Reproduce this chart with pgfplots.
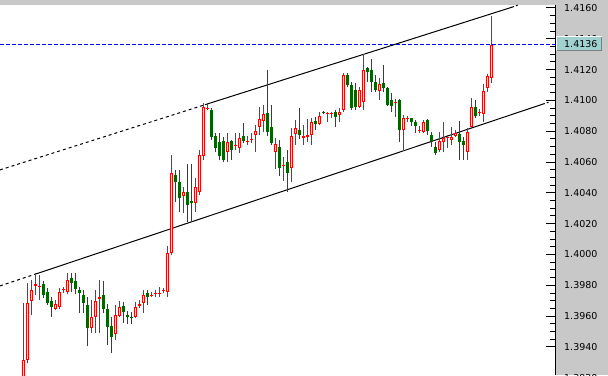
\documentclass[border=0pt]{standalone}
\usepackage{fontspec}
\setmainfont{DejaVu Sans}
\usepackage{pgfplots}
\usepackage{pgfplotstable}
\pgfplotsset{compat=1.18}
\definecolor{bullred}{RGB}{255,0,0}
\definecolor{beargreen}{RGB}{0,100,0}
\definecolor{panelgray}{RGB}{200,200,200}
\definecolor{pricebox}{RGB}{160,208,208}

\pgfplotstableread{
x o h l c
0 1.39184 1.39684 1.39184 1.39314
1 1.39314 1.39814 1.39295 1.39684
2 1.39697 1.39834 1.39606 1.39769
3 1.39795 1.39879 1.39736 1.39808
4 1.39788 1.39866 1.39704 1.39795
8 1.39645 1.39704 1.39639 1.39678
9 1.39658 1.39782 1.39645 1.39756
10 1.39769 1.39788 1.39749 1.39775
11 1.39756 1.39879 1.39743 1.39834
17 1.39522 1.39704 1.39490 1.39593
18 1.39593 1.39769 1.39490 1.39697
19 1.39710 1.39834 1.39490 1.39723
23 1.39483 1.39671 1.39444 1.39606
24 1.39600 1.39697 1.39593 1.39658
28 1.39593 1.39691 1.39587 1.39658
29 1.39665 1.39704 1.39652 1.39678
30 1.39684 1.39769 1.39619 1.39736
32 1.39730 1.39756 1.39723 1.39736
33 1.39743 1.39769 1.39723 1.39749
34 1.39743 1.39788 1.39723 1.39749
35 1.39762 1.39782 1.39749 1.39769
36 1.39756 1.40055 1.39723 1.40009
37 1.40009 1.40645 1.39996 1.40529
40 1.40379 1.40438 1.40269 1.40405
43 1.40334 1.40496 1.40275 1.40438
44 1.40405 1.40678 1.40386 1.40645
45 1.40639 1.40983 1.40613 1.40957
46 1.40944 1.40983 1.40938 1.40951
51 1.40665 1.40788 1.40600 1.40730
53 1.40704 1.40788 1.40678 1.40710
54 1.40691 1.40788 1.40658 1.40756
56 1.40730 1.40769 1.40710 1.40736
57 1.40743 1.40788 1.40723 1.40749
58 1.40775 1.40840 1.40665 1.40801
59 1.40827 1.40957 1.40775 1.40879
60 1.40866 1.40970 1.40795 1.40912
63 1.40665 1.40756 1.40555 1.40717
65 1.40574 1.40632 1.40477 1.40581
67 1.40561 1.40821 1.40470 1.40769
68 1.40782 1.40873 1.40710 1.40821
70 1.40756 1.40840 1.40710 1.40769
71 1.40762 1.40879 1.40730 1.40775
72 1.40775 1.40886 1.40710 1.40860
74 1.40847 1.40925 1.40840 1.40899
76 1.40912 1.40925 1.40860 1.40918
77 1.40912 1.40925 1.40886 1.40918
79 1.40905 1.40951 1.40860 1.40925
80 1.40938 1.41178 1.40925 1.41165
84 1.40957 1.41087 1.40951 1.41068
85 1.40990 1.41301 1.40938 1.41197
89 1.41061 1.41146 1.41003 1.41107
93 1.40983 1.41009 1.40892 1.40990
95 1.40808 1.40905 1.40671 1.40886
96 1.40879 1.40899 1.40860 1.40886
99 1.40801 1.40834 1.40788 1.40808
100 1.40795 1.40873 1.40788 1.40860
104 1.40678 1.40795 1.40665 1.40736
105 1.40730 1.40860 1.40665 1.40756
106 1.40756 1.40775 1.40691 1.40762
107 1.40743 1.40827 1.40710 1.40762
108 1.40769 1.40808 1.40762 1.40788
111 1.40665 1.40821 1.40613 1.40795
112 1.40827 1.41016 1.40821 1.40957
114 1.40918 1.40944 1.40899 1.40925
115 1.40912 1.41107 1.40860 1.41061
116 1.41081 1.41171 1.41055 1.41159
117 1.41146 1.41548 1.41113 1.41360
}\bull

\pgfplotstableread{
x o h l c
5 1.39808 1.39827 1.39717 1.39736
6 1.39756 1.39782 1.39671 1.39684
7 1.39697 1.39723 1.39593 1.39658
12 1.39847 1.39879 1.39756 1.39814
13 1.39827 1.39879 1.39743 1.39775
14 1.39769 1.39788 1.39619 1.39749
15 1.39736 1.39769 1.39619 1.39684
16 1.39671 1.39723 1.39405 1.39522
20 1.39736 1.39827 1.39619 1.39645
21 1.39645 1.39678 1.39412 1.39528
22 1.39535 1.39593 1.39360 1.39464
25 1.39665 1.39691 1.39554 1.39626
26 1.39606 1.39632 1.39548 1.39593
27 1.39593 1.39626 1.39548 1.39587
31 1.39749 1.39769 1.39671 1.39723
38 1.40516 1.40548 1.40340 1.40470
39 1.40470 1.40548 1.40275 1.40366
41 1.40405 1.40587 1.40210 1.40321
42 1.40347 1.40587 1.40210 1.40334
47 1.40938 1.40951 1.40743 1.40762
48 1.40769 1.40788 1.40665 1.40691
49 1.40730 1.40788 1.40613 1.40639
50 1.40736 1.40762 1.40600 1.40613
52 1.40736 1.40743 1.40613 1.40678
55 1.40769 1.40853 1.40723 1.40736
61 1.40918 1.41197 1.40769 1.40795
62 1.40827 1.40970 1.40710 1.40723
64 1.40697 1.40743 1.40509 1.40561
66 1.40600 1.40678 1.40405 1.40529
69 1.40808 1.40951 1.40749 1.40775
73 1.40866 1.40892 1.40808 1.40847
75 1.40925 1.40931 1.40912 1.40918
78 1.40925 1.40938 1.40827 1.40892
81 1.41165 1.41178 1.41087 1.41100
82 1.41100 1.41120 1.40938 1.40951
83 1.41068 1.41113 1.40938 1.40957
86 1.41210 1.41217 1.41120 1.41184
87 1.41197 1.41269 1.41055 1.41120
88 1.41120 1.41165 1.41055 1.41068
90 1.41113 1.41230 1.41055 1.41081
91 1.41081 1.41087 1.40964 1.40970
92 1.41003 1.41048 1.40925 1.40964
94 1.41003 1.41009 1.40730 1.40808
97 1.40886 1.40886 1.40834 1.40860
98 1.40860 1.40873 1.40788 1.40834
101 1.40873 1.40879 1.40775 1.40801
102 1.40775 1.40795 1.40697 1.40736
103 1.40697 1.40730 1.40645 1.40658
109 1.40782 1.40866 1.40613 1.40730
110 1.40736 1.40762 1.40613 1.40710
113 1.40957 1.41003 1.40886 1.40899
}\bear

\pgfplotsset{
  candle/.style 2 args={draw=none, no markers, forget plot,
    error bars/.cd, y dir=plus, y explicit, error mark=none,
    error bar style={solid, line width=#1, draw=#2}},
}

\begin{document}
\begin{tikzpicture}[x=1pt,y=1pt]
\fill[panelgray] (555,0) rectangle (608,375);
\fill[panelgray] (0,370) rectangle (608,375);
\begin{axis}[
  at={(0,0)}, anchor=south west,
  scale only axis, width=555pt, height=370pt,
  xmin=-5.825, xmax=132.925, ymin=1.39218, ymax=1.41619,
  axis x line=none, axis y line=right,
  axis line style={-, black, line width=1pt},
  ytick={1.394,1.396,1.398,1.400,1.402,1.404,1.406,1.408,1.410,1.412,1.414,1.416},
  minor y tick num=3,
  tick align=inside,
  major tick length=9pt, minor tick length=5pt,
  tick style={black, line width=1pt},
  yticklabel style={font=\fontsize{9.5}{11}\selectfont, anchor=west, inner sep=0pt, xshift=9pt,
    /pgf/number format/.cd, fixed, fixed zerofill, precision=4, assume math mode=true},
  clip=true,
]
% blue current price line
\addplot[blue, line width=1pt, dash pattern=on 4pt off 2pt, forget plot] coordinates {(-5.825,1.4136) (132.925,1.4136)};
% upper channel line
\addplot[black, line width=1pt, dash pattern=on 3pt off 3pt, forget plot] coordinates {(-5.825,1.40549) (45.43,1.40972)};
\addplot[black, line width=1pt, forget plot] coordinates {(45.43,1.40972) (122.2,1.41605)};
\addplot[black, line width=1pt, dash pattern=on 2pt off 2pt, forget plot] coordinates {(122.2,1.41605) (123.6,1.41618)};
% lower channel line
\addplot[black, line width=1pt, dash pattern=on 3pt off 3pt, forget plot] coordinates {(-5.825,1.39796) (3.43,1.39876)};
\addplot[black, line width=1pt, forget plot] coordinates {(3.43,1.39876) (129.9,1.40976)};
\addplot[black, line width=1pt, dash pattern=on 2pt off 2pt, forget plot] coordinates {(129.9,1.40976) (131.3,1.40988)};
% wicks
\addplot[candle={1pt}{bullred}] table[x=x, y=l, y error plus expr=\thisrow{h}-\thisrow{l}] {\bull};
\addplot[candle={1pt}{beargreen}] table[x=x, y=l, y error plus expr=\thisrow{h}-\thisrow{l}] {\bear};
% bodies
\addplot[candle={3pt}{bullred}] table[x=x, y=o, y error plus expr=\thisrow{c}-\thisrow{o}] {\bull};
\addplot[candle={1pt}{white}] table[x=x, y expr=\thisrow{o}+0.000065, y error plus expr={max(\thisrow{c}-\thisrow{o}-0.00013,0)}] {\bull};
\addplot[candle={3pt}{beargreen}] table[x=x, y=c, y error plus expr=\thisrow{o}-\thisrow{c}] {\bear};
\end{axis}
% partially visible bottom label (cut by the window edge)
\node[anchor=west, inner sep=0pt, font=\fontsize{9.5}{11}\selectfont] at (564,-2.8) {1.3920};
% current price label
\fill[pricebox] (556,324.5) rectangle (602,338.5);
\draw[white, line width=1pt] (556.5,324.5) -- (556.5,338) -- (602,338);
\draw[gray, line width=1pt] (557,324.5) -- (601.5,324.5) -- (601.5,338);
\node[anchor=west, inner sep=0pt, font=\fontsize{9.5}{11}\selectfont] at (564,331) {1.4136};
\pgfresetboundingbox
\useasboundingbox (0,0) rectangle (608,375);
\end{tikzpicture}
\end{document}
